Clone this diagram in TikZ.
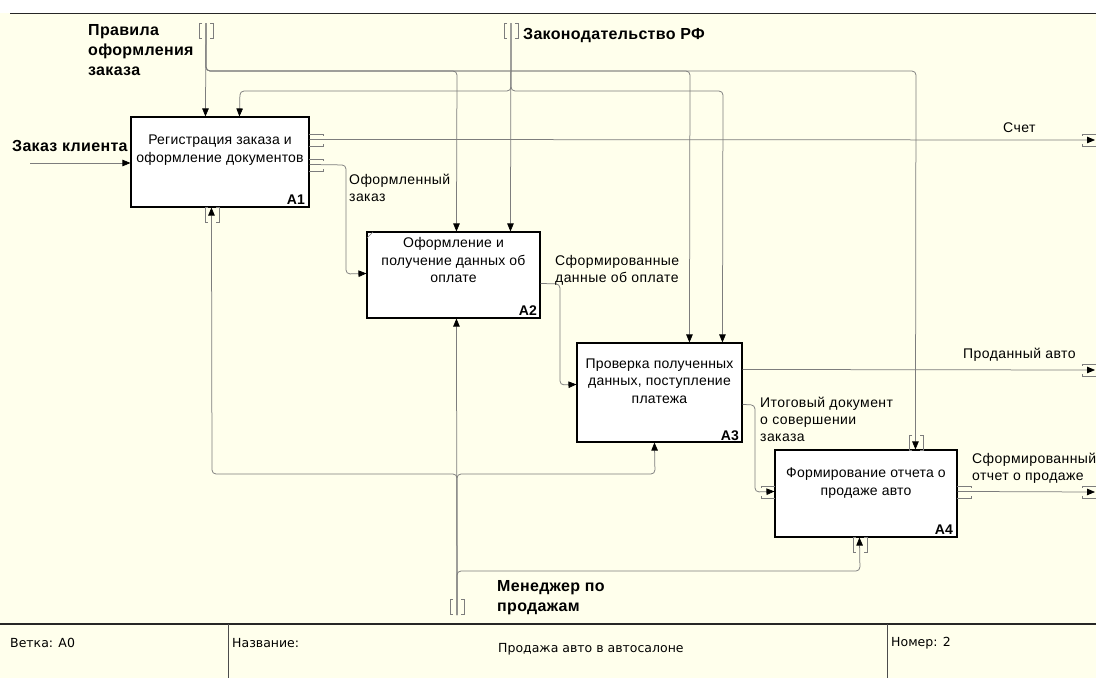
\documentclass[tikz,border=0pt]{standalone}
\usepackage{fontspec}
\setmainfont{Liberation Sans}
\newfontfamily\lsfont[LetterSpace=3]{Liberation Sans}
\newfontfamily\lsboxfont[LetterSpace=1.5]{Liberation Sans}
\newfontfamily\lsbfont[LetterSpace=2]{Liberation Sans}
\newfontfamily\ftfont{DejaVu Sans}
\usetikzlibrary{arrows.meta}
\definecolor{bg}{RGB}{255,255,236}
\definecolor{ln}{RGB}{125,125,125}
\tikzset{
  procbox/.style={draw=black,line width=1.1pt,fill=white,inner sep=0pt},
  boxtext/.style={align=center,inner sep=0pt,font=\lsboxfont\fontsize{14}{17.5}\selectfont},
  boxid/.style={anchor=east,inner sep=0pt,font=\bfseries\fontsize{14}{14}\selectfont},
  lbl/.style={anchor=west,align=left,inner sep=0pt,font=\lsfont\fontsize{14}{17}\selectfont},
  blbl/.style={anchor=west,align=left,inner sep=0pt,font=\lsbfont\bfseries\fontsize{16}{20}\selectfont},
  ftxt/.style={anchor=west,inner sep=0pt,font=\ftfont\fontsize{12.5}{14}\selectfont},
  flow/.style={draw=ln,line width=0.75pt,rounded corners=4pt},
  tip/.style={-{Triangle[length=8pt,width=6.5pt,color=black]}},
  tun/.style={draw=ln,line width=0.6pt},
  vbr/.pic={\draw[tun] (-4,-7.5) -- (-7,-7.5) -- (-7,7.5) -- (-4,7.5);
            \draw[tun] (4,-7.5) -- (7,-7.5) -- (7,7.5) -- (4,7.5);},
  hbr/.pic={\draw[tun] (0,-6) -- (14,-6) -- (14,-4);
            \draw[tun] (0,6) -- (14,6) -- (14,4);}
}
\begin{document}
\begin{tikzpicture}[x=1pt,y=-1pt]
\useasboundingbox (0,0) rectangle (1096,678);
\fill[white] (0,0) rectangle (1096,13);
\fill[bg] (0,13) rectangle (1096,678);
\draw[line width=1pt,black!85] (10,13) -- (1096,13);
% footer
\draw[line width=1.2pt,black!85] (0,624) -- (1096,624);
\draw[line width=1pt,black!70] (228,624) -- (228,678);
\draw[line width=1pt,black!70] (887,624) -- (887,678);
\node[ftxt] (f1) at (10,643) {Ветка: A0};
\node[ftxt] (f2) at (232,643) {Название:};
\node[ftxt] (f3) at (498,649) {Продажа авто в автосалоне};
\node[ftxt] (f4) at (891,643) {Номер: 2};

% boxes
\node[procbox,minimum width=178pt,minimum height=90pt] (A1) at (220,162) {};
\node[procbox,minimum width=173pt,minimum height=86pt] (A2) at (453.5,275) {};
\node[procbox,minimum width=165pt,minimum height=99pt] (A3) at (659.5,392.5) {};
\node[procbox,minimum width=182pt,minimum height=87pt] (A4) at (866,493.5) {};
\draw[tun] (367,238) -- (373,232);

\node[boxtext] (A1t) at (220,150) {Регистрация заказа и\\оформление документов};
\node[boxtext] (A2t) at (453.5,260) {Оформление и\\получение данных об\\оплате};
\node[boxtext] (A3t) at (659.5,381) {Проверка полученных\\данных, поступление\\платежа};
\node[boxtext] (A4t) at (866,483) {Формирование отчета о\\продаже авто};
\node[boxid] (A1i) at (305,200) {A1};
\node[boxid] (A2i) at (537,311) {A2};
\node[boxid] (A3i) at (739,436) {A3};
\node[boxid] (A4i) at (953,530) {A4};

% sources / ends
\coordinate (rulesSrc) at (206,23);
\coordinate (lawSrc) at (511,23);
\coordinate (mgrSrc) at (457,615);
\coordinate (orderSrc) at (30,163);
\coordinate (schetEnd) at (1095,140);
\coordinate (carEnd) at (1095,370);
\coordinate (repEnd) at (1095,492);

% controls: rules
\draw[flow,tip] (rulesSrc) -- ([xshift=75pt]A1.north west);
\draw[flow,tip] (rulesSrc) -- (206,71) -- (457,71) -- ([xshift=90pt]A2.north west);
\draw[flow,tip] (rulesSrc) -- (206,71) -- (690,71) -- ([xshift=113pt]A3.north west);
\draw[flow,tip] (rulesSrc) -- (206,71) -- (916,71) -- ([xshift=141pt]A4.north west);
% controls: law
\draw[flow,tip] (lawSrc) -- ([xshift=144pt]A2.north west);
\draw[flow,tip] (lawSrc) -- (511,91) -- (240,91) -- ([xshift=109pt]A1.north west);
\draw[flow,tip] (lawSrc) -- (511,91) -- (723,91) -- ([xshift=146pt]A3.north west);
% mechanism: manager
\draw[flow,tip] (mgrSrc) -- ([xshift=90pt]A2.south west);
\draw[flow,tip] (mgrSrc) -- (457,474) -- (212,474) -- ([xshift=81pt]A1.south west);
\draw[flow,tip] (mgrSrc) -- (457,474) -- (655,474) -- ([xshift=78pt]A3.south west);
\draw[flow,tip] (mgrSrc) -- (457,571) -- (860,571) -- ([xshift=85pt]A4.south west);
% input
\draw[flow,tip] (orderSrc) -- (orderSrc -| A1.west);
% outputs
\draw[flow,tip] ([yshift=-23pt]A1.north east) -- (schetEnd);
\draw[flow,tip] ([yshift=-48pt]A1.north east) -- (346,165) -- (346,274) -- ([yshift=-42pt]A2.north west);
\draw[flow,tip] ([yshift=-52pt]A2.north east) -- (560,284) -- (560,385) -- ([yshift=-42pt]A3.north west);
\draw[flow,tip] ([yshift=-27pt]A3.north east) -- (carEnd);
\draw[flow,tip] ([yshift=-62pt]A3.north east) -- (755,405) -- (755,492) -- ([yshift=-42pt]A4.north west);
\draw[flow,tip] ([yshift=-42pt]A4.north east) -- (repEnd);

% tunnel brackets
\pic at (206,30.5) {vbr};
\pic at (511,31) {vbr};
\pic at (457,607) {vbr};
\pic at (212,215) {vbr};
\pic at (860,545) {vbr};
\pic at (916,443) {vbr};
\pic at (309,140) {hbr};
\pic at (309,165) {hbr};
\pic at (957,492) {hbr};
\pic[xscale=-1] at (775,492) {hbr};
\pic[xscale=-1] at (1096,140) {hbr};
\pic[xscale=-1] at (1096,370) {hbr};
\pic[xscale=-1] at (1096,492) {hbr};

% labels
\node[blbl] (lRules) at (88,50) {Правила\\оформления\\заказа};
\node[blbl] (lLaw) at (523,36) {Законодательство РФ};
\node[blbl] (lOrder) at (12,146) {Заказ клиента};
\node[blbl] (lMgr) at (497,598) {Менеджер по\\продажам};
\node[lbl] (lSchet) at (1003,128) {Счет};
\node[lbl] (lOf) at (349,188) {Оформленный\\заказ};
\node[lbl] (lSf) at (555,270) {Сформированные\\данные об оплате};
\node[lbl] (lIt) at (760,419) {Итоговый документ\\о совершении\\заказа};
\node[lbl] (lCar) at (963,355) {Проданный авто};
\node[lbl] (lRep) at (972,468) {Сформированный\\отчет о продаже};
\end{tikzpicture}
\end{document}
